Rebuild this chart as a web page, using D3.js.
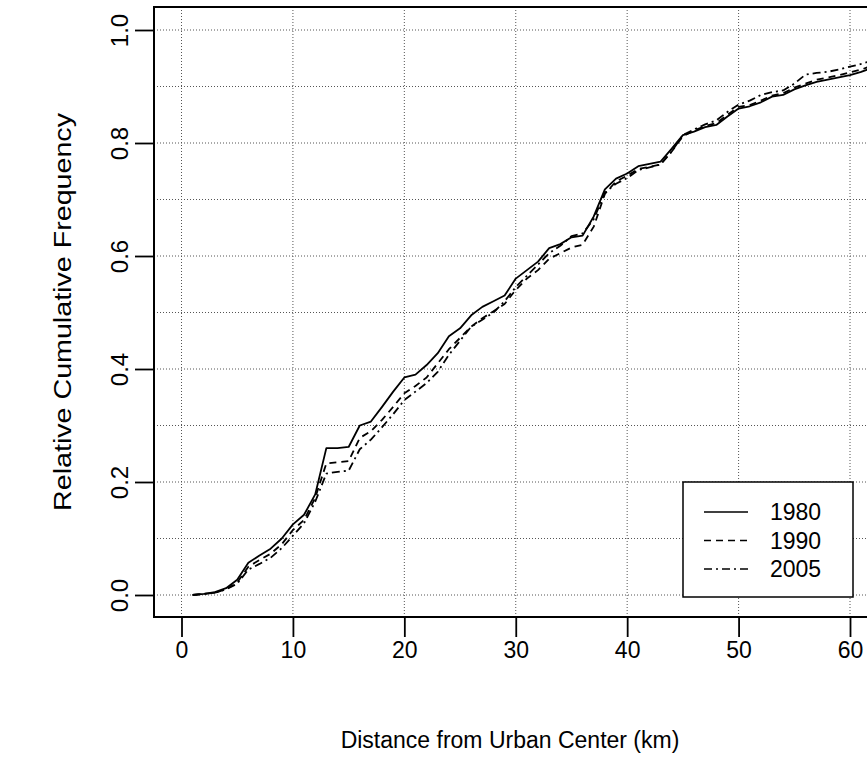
<!DOCTYPE html>
<html><head><meta charset="utf-8">
<script src="https://cdn.jsdelivr.net/npm/d3@7"></script>
<style>
body{margin:0;background:#fff}
svg{display:block}
text{font-family:"Liberation Sans",Arial,Helvetica,sans-serif;fill:#000}
</style>
</head><body>
<svg id="chart" width="867" height="772"></svg>
<script>
const distance = [1,2,3,4,5,6,7,8,9,10,11,12,13,14,15,16,17,18,19,20,21,22,23,24,25,26,27,28,29,30,31,32,33,34,35,36,37,38,39,40,41,42,43,44,45,46,47,48,49,50,51,52,53,54,55,56,57,58,59,60,61,62];
const s1980 = [0,0.002,0.005,0.012,0.027,0.057,0.07,0.082,0.1,0.125,0.142,0.178,0.26,0.26,0.262,0.3,0.307,0.333,0.36,0.385,0.39,0.407,0.428,0.458,0.472,0.495,0.51,0.52,0.53,0.56,0.575,0.59,0.614,0.621,0.633,0.636,0.67,0.718,0.737,0.746,0.759,0.763,0.767,0.79,0.814,0.82,0.828,0.832,0.847,0.861,0.865,0.872,0.882,0.885,0.895,0.902,0.908,0.912,0.916,0.92,0.926,0.933];
const s1990 = [0,0.002,0.004,0.01,0.022,0.05,0.062,0.073,0.09,0.115,0.133,0.172,0.233,0.235,0.237,0.278,0.29,0.31,0.333,0.357,0.37,0.385,0.41,0.435,0.455,0.475,0.49,0.502,0.515,0.54,0.56,0.575,0.595,0.605,0.615,0.62,0.652,0.71,0.732,0.742,0.754,0.758,0.762,0.785,0.812,0.822,0.83,0.835,0.85,0.864,0.867,0.875,0.884,0.888,0.898,0.905,0.912,0.916,0.92,0.925,0.93,0.937];
const s2005 = [0,0.002,0.004,0.01,0.02,0.045,0.055,0.066,0.083,0.105,0.127,0.165,0.215,0.218,0.22,0.258,0.275,0.297,0.32,0.345,0.36,0.375,0.395,0.425,0.45,0.475,0.487,0.5,0.52,0.545,0.565,0.585,0.605,0.618,0.635,0.64,0.665,0.712,0.728,0.738,0.752,0.757,0.762,0.785,0.814,0.824,0.833,0.84,0.855,0.868,0.875,0.885,0.89,0.893,0.905,0.921,0.924,0.926,0.93,0.935,0.94,0.946];
const seriesNames = ["1980","1990","2005"];
const xTicks = [0,10,20,30,40,50,60];
const yTicks = [0,0.2,0.4,0.6,0.8,1.0];
const yGrid = [0,0.1,0.2,0.3,0.4,0.5,0.6,0.7,0.8,0.9,1.0];
const xTitle = "Distance from Urban Center (km)";
const yTitle = "Relative Cumulative Frequency";

const svg = d3.select("#chart");
const box = {left:154, top:7, bottom:617, right:885};
const x = d3.scaleLinear().domain([0,60]).range([181.5,850]);
const y = d3.scaleLinear().domain([0,1]).range([595,30]);
const FS = 23;
const FSV = 24;

svg.append("defs").append("clipPath").attr("id","clip")
  .append("rect").attr("x",box.left).attr("y",box.top)
  .attr("width",box.right-box.left).attr("height",box.bottom-box.top);

// grid
const grid = svg.append("g").attr("stroke","#555").attr("stroke-width",1).attr("stroke-dasharray","1,2");
grid.selectAll(".gx").data(xTicks).join("line")
  .attr("x1",d=>x(d)).attr("x2",d=>x(d)).attr("y1",box.top).attr("y2",box.bottom);
grid.selectAll(".gy").data(yGrid).join("line")
  .attr("y1",d=>y(d)).attr("y2",d=>y(d)).attr("x1",box.left).attr("x2",box.right);

// series
const data = [s1980, s1990, s2005];
const dashes = [null, "7,5", "8,4,2,4"];
const line = d3.line().x((d,i)=>x(distance[i])).y(d=>y(d));
const lg = svg.append("g").attr("clip-path","url(#clip)");
data.forEach((s,k)=>{
  lg.append("path").datum(s).attr("d",line).attr("fill","none")
    .attr("stroke","#000").attr("stroke-width",1.8)
    .attr("stroke-linejoin","round")
    .attr("stroke-dasharray",dashes[k]);
});

// box
svg.append("rect").attr("x",box.left).attr("y",box.top)
  .attr("width",box.right-box.left).attr("height",box.bottom-box.top)
  .attr("fill","none").attr("stroke","#000").attr("stroke-width",2);

// x axis
const xa = svg.append("g").attr("transform",`translate(0,${box.bottom})`)
  .call(d3.axisBottom(x).tickValues(xTicks).tickSize(20).tickPadding(5).tickFormat(d3.format("d")));
xa.select(".domain").remove();
xa.selectAll(".tick line").attr("stroke","#000").attr("stroke-width",1.8);
xa.selectAll("text").attr("font-size",FS).attr("font-family","Liberation Sans, Arial, sans-serif").attr("fill","#000");

// y axis
const ya = svg.append("g").attr("transform",`translate(${box.left},0)`)
  .call(d3.axisLeft(y).tickValues(yTicks).tickSize(19).tickFormat(d3.format(".1f")));
ya.select(".domain").remove();
ya.selectAll(".tick line").attr("stroke","#000").attr("stroke-width",1.8);
ya.selectAll("text").attr("font-size",FSV).attr("font-family","Liberation Sans, Arial, sans-serif").attr("fill","#000")
  .attr("text-anchor","middle").attr("dy",0).attr("x",0)
  .attr("transform","translate(-26,0) rotate(-90)");

// titles
svg.append("text").attr("x",(box.left+866)/2).attr("y",748).attr("text-anchor","middle")
  .attr("font-size",FS).text(xTitle);
svg.append("text").attr("transform",`translate(71,${(box.top+box.bottom)/2}) rotate(-90)`)
  .attr("text-anchor","middle").attr("font-size",23)
  .attr("textLength",398).attr("lengthAdjust","spacingAndGlyphs").text(yTitle);

// legend
const leg = svg.append("g");
leg.append("rect").attr("x",683).attr("y",482).attr("width",170).attr("height",115)
  .attr("fill","#fff").attr("stroke","#000").attr("stroke-width",1.5);
seriesNames.forEach((n,k)=>{
  const yy = 512 + k*28.5;
  leg.append("line").attr("x1",704).attr("x2",748).attr("y1",yy).attr("y2",yy)
    .attr("stroke","#000").attr("stroke-width",1.5).attr("stroke-dasharray",dashes[k]);
  leg.append("text").attr("x",770).attr("y",yy+8).attr("font-size",FS).text(n);
});
</script>
</body></html>
